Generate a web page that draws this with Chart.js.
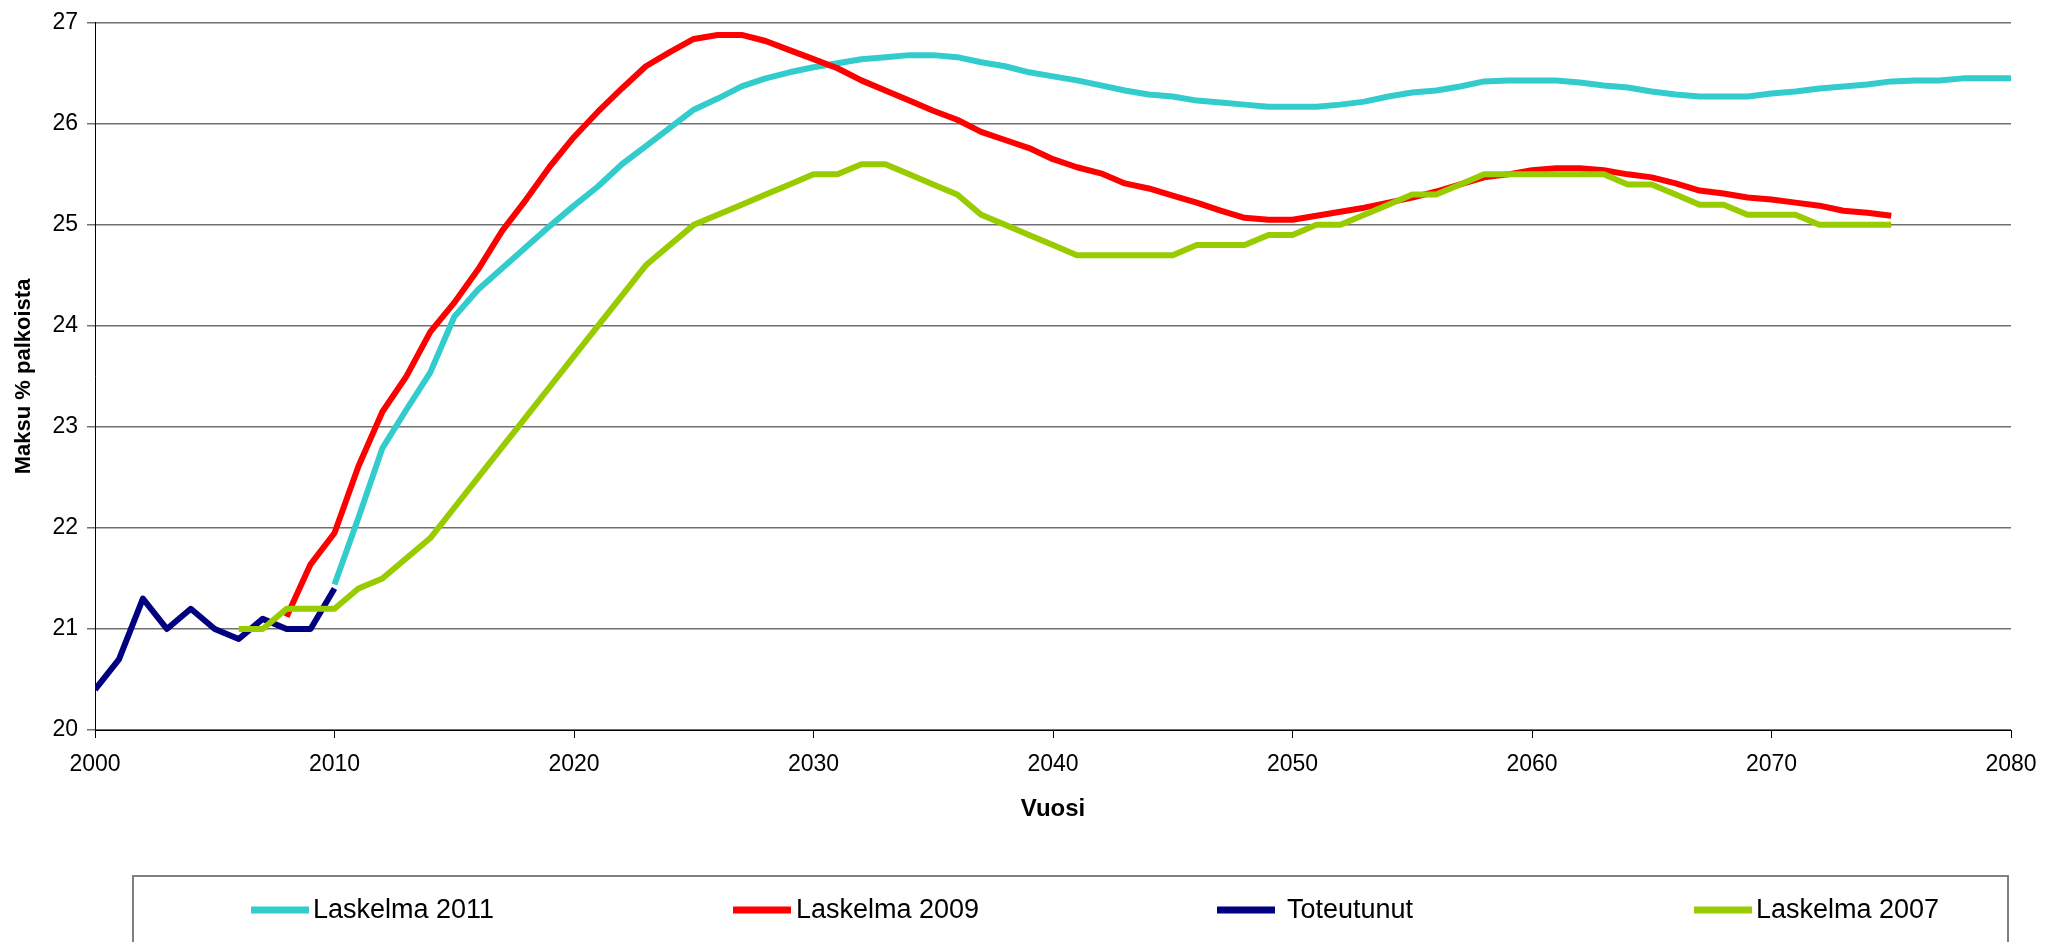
<!DOCTYPE html>
<html>
<head>
<meta charset="utf-8">
<script src="https://cdn.jsdelivr.net/npm/chart.js@4.4.0/dist/chart.umd.min.js"></script>
<style>
  html, body { margin: 0; padding: 0; background: #fff; }
  #wrap { width: 2058px; height: 942px; }
</style>
</head>
<body>
<div id="wrap"><canvas id="chart" width="2058" height="942"></canvas></div>
<script>
// values, one entry per year from the start year
const start2011 = 2010;
const laskelma2011 = [
  21.44, 22.1, 22.79, 23.17, 23.54, 24.09, 24.36, 24.57, 24.78, 24.99,
  25.19, 25.38, 25.60, 25.78, 25.96, 26.14, 26.25, 26.37, 26.45, 26.51,
  26.56, 26.60, 26.64, 26.66, 26.68, 26.68, 26.66, 26.61, 26.57, 26.51,
  26.47, 26.43, 26.38, 26.33, 26.29, 26.27, 26.23, 26.21, 26.19, 26.17,
  26.17, 26.17, 26.19, 26.22, 26.27, 26.31, 26.33, 26.37, 26.42, 26.43,
  26.43, 26.43, 26.41, 26.38, 26.36, 26.32, 26.29, 26.27, 26.27, 26.27,
  26.30, 26.32, 26.35, 26.37, 26.39, 26.42, 26.43, 26.43, 26.45, 26.45,
  26.45
];

const start2009 = 2008;
const laskelma2009 = [
  21.12, 21.64, 21.95, 22.61, 23.15, 23.50, 23.94, 24.23, 24.56, 24.94,
  25.25, 25.58, 25.87, 26.12, 26.35, 26.57, 26.71, 26.84, 26.88, 26.88,
  26.82, 26.73, 26.64, 26.55, 26.43, 26.33, 26.23, 26.13, 26.04, 25.92,
  25.84, 25.76, 25.65, 25.57, 25.51, 25.41, 25.36, 25.29, 25.22, 25.14,
  25.07, 25.05, 25.05, 25.09, 25.13, 25.17, 25.22, 25.27, 25.33, 25.40,
  25.47, 25.50, 25.54, 25.56, 25.56, 25.54, 25.50, 25.47, 25.41, 25.34,
  25.31, 25.27, 25.25, 25.22, 25.19, 25.14, 25.12, 25.09
];

const startToteutunut = 2000;
const toteutunut = [20.4, 20.7, 21.3, 21.0, 21.2, 21.0, 20.9, 21.1, 21.0, 21.0, 21.4];

const start2007 = 2006;
const laskelma2007 = [
  21.0, 21.0, 21.2, 21.2, 21.2, 21.4, 21.5, 21.7, 21.9, 22.2,
  22.5, 22.8, 23.1, 23.4, 23.7, 24.0, 24.3, 24.6, 24.8, 25.0,
  25.1, 25.2, 25.3, 25.4, 25.5, 25.5, 25.6, 25.6, 25.5, 25.4,
  25.3, 25.1, 25.0, 24.9, 24.8, 24.7, 24.7, 24.7, 24.7, 24.7,
  24.8, 24.8, 24.8, 24.9, 24.9, 25.0, 25.0, 25.1, 25.2, 25.3,
  25.3, 25.4, 25.5, 25.5, 25.5, 25.5, 25.5, 25.5, 25.4, 25.4,
  25.3, 25.2, 25.2, 25.1, 25.1, 25.1, 25.0, 25.0, 25.0, 25.0
];

const xTicks = [2000, 2010, 2020, 2030, 2040, 2050, 2060, 2070, 2080];
const yTicks = [20, 21, 22, 23, 24, 25, 26, 27];

const FONT = "'Liberation Sans', Arial, sans-serif";

const toPoints = (start, values) => values.map((v, i) => ({ x: start + i, y: v }));

// order: lower number is painted on top (2007 on top, 2011 at bottom like the original)
const datasets = [
  { label: 'Laskelma 2011', data: toPoints(start2011, laskelma2011), borderColor: '#33CCCC', order: 3 },
  { label: 'Laskelma 2009', data: toPoints(start2009, laskelma2009), borderColor: '#FF0000', order: 2 },
  { label: 'Toteutunut', data: toPoints(startToteutunut, toteutunut), borderColor: '#000080', order: 1 },
  { label: 'Laskelma 2007', data: toPoints(start2007, laskelma2007), borderColor: '#99CC00', order: 0 }
].map(d => Object.assign(d, {
  borderWidth: 6,
  pointRadius: 0,
  tension: 0,
  fill: false,
  borderJoinStyle: 'round'
}));

// legend in a framed box under the plot, like the spreadsheet one
const legendLineX = [251, 733, 1217, 1694];
const legendTextX = [313, 796, 1287, 1756];

const legendBox = {
  id: 'legendBox',
  afterDraw(chart) {
    const ctx = chart.ctx;
    ctx.save();
    ctx.strokeStyle = '#808080';
    ctx.lineWidth = 2;
    ctx.strokeRect(133, 876, 1875, 120);
    ctx.font = '27px ' + FONT;
    ctx.textBaseline = 'middle';
    ctx.fillStyle = '#000';
    chart.data.datasets.forEach((ds, i) => {
      ctx.strokeStyle = ds.borderColor;
      ctx.lineWidth = 7;
      ctx.beginPath();
      ctx.moveTo(legendLineX[i], 910);
      ctx.lineTo(legendLineX[i] + 58, 910);
      ctx.stroke();
      ctx.fillText(ds.label, legendTextX[i], 911);
    });
    ctx.restore();
  }
};

new Chart(document.getElementById('chart'), {
  type: 'line',
  data: { datasets },
  options: {
    responsive: false,
    animation: false,
    layout: { padding: { left: 0, top: 19, right: 47, bottom: 0 } },
    plugins: {
      legend: { display: false },
      tooltip: { enabled: false }
    },
    scales: {
      x: {
        type: 'linear',
        min: 2000,
        max: 2080,
        afterBuildTicks: s => { s.ticks = xTicks.map(v => ({ value: v })); },
        afterFit: s => { s.height = 212; },
        ticks: {
          callback: v => String(v),
          font: { family: FONT, size: 23 },
          color: '#000',
          padding: 13,
          maxRotation: 0,
          autoSkip: false
        },
        grid: { drawOnChartArea: false, drawTicks: true, tickLength: 8, tickColor: '#000' },
        border: { color: '#000', width: 1 },
        title: {
          display: true,
          text: 'Vuosi',
          font: { family: FONT, size: 24, weight: 'bold' },
          color: '#000',
          padding: { top: 0, bottom: 118 }
        }
      },
      y: {
        min: 20,
        max: 27,
        afterBuildTicks: s => { s.ticks = yTicks.map(v => ({ value: v })); },
        afterFit: s => { s.width = 95; },
        ticks: {
          callback: v => String(v),
          font: { family: FONT, size: 23 },
          color: '#000',
          padding: 9
        },
        grid: { color: '#707070', lineWidth: 1.5, tickLength: 8, tickColor: '#707070' },
        border: { color: '#000', width: 1 },
        title: {
          display: true,
          text: 'Maksu % palkoista',
          font: { family: FONT, size: 22, weight: 'bold' },
          color: '#000',
          padding: { top: 11, bottom: 0 }
        }
      }
    }
  },
  plugins: [legendBox]
});
</script>
</body>
</html>
